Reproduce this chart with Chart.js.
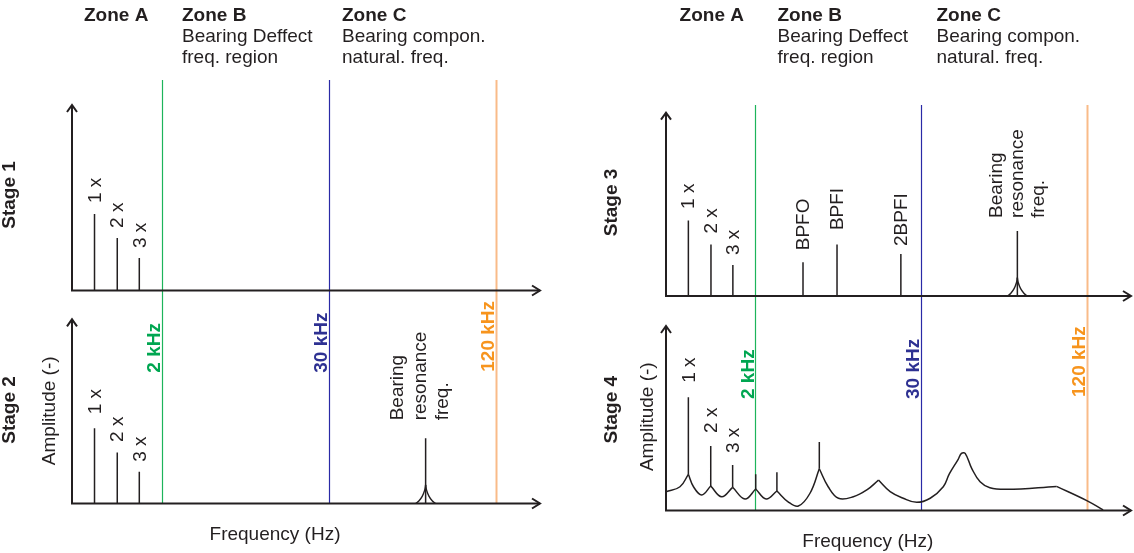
<!DOCTYPE html>
<html>
<head>
<meta charset="utf-8">
<script src="https://cdn.jsdelivr.net/npm/chart.js@4.4.1/dist/chart.umd.min.js"></script>
<style>
html,body{margin:0;padding:0;background:#fff;}
#wrap{position:relative;width:1134px;height:553px;overflow:hidden;background:#fff;}
canvas{position:absolute;display:block;}
</style>
</head>
<body>
<div id="wrap">
<canvas id="c1" width="567" height="300" style="left:0px;top:0px"></canvas>
<canvas id="c2" width="567" height="253" style="left:0px;top:300px"></canvas>
<canvas id="c3" width="567" height="303" style="left:567px;top:0px"></canvas>
<canvas id="c4" width="567" height="250" style="left:567px;top:303px"></canvas>
</div>
<script>
// ---------------- DATA ----------------
const zoneTitles = ['Zone A', 'Zone B', 'Zone C'];
const zoneSubtitles = [[], ['Bearing Deffect', 'freq. region'], ['Bearing compon.', 'natural. freq.']];
const stageLabels = ['Stage 1', 'Stage 2', 'Stage 3', 'Stage 4'];
const amplitudeTitle = 'Amplitude (-)';
const frequencyTitle = 'Frequency (Hz)';

// frequency axis runs 0..100 (schematic units)
const boundaryFreqs = [19.2, 54.7, 90.3];
const boundaryLabels = ['2 kHz', '30 kHz', '120 kHz'];

const harmonicFreqs = [4.8, 9.65, 14.35];
const harmonicLabels = ['1 x', '2 x', '3 x'];
const stage1Harmonics = [41.0, 28.2, 17.4];
const stage2Harmonics = [40.6, 27.6, 17.1];
const stage3Harmonics = [41.0, 27.9, 16.8];

const defectFreqs = [29.4, 36.7, 50.4];
const defectLabels = ['BPFO', 'BPFI', '2BPFI'];
const stage3Defects = [18.3, 27.9, 22.8];

const resonanceFreq = 75.4;
const resonanceLabel = ['Bearing', 'resonance', 'freq.'];
const stage2Resonance = 35.2;
const stage3Resonance = 35.3;
const flareOffsets = [2.1, 1.4, 0.7, 0.2, 0];
const flareAmps = [0, 1.5, 4.0, 7.2, 10.0];

const stage4CurveX = [0, 3.0, 4.8, 5.9, 7.66, 9.6, 11.95, 14.3, 16.95, 19.25, 21.5, 23.8, 26.2, 28.4, 30.9, 32.9, 34.8, 37.0, 40.2, 43.1, 45.6, 48.1, 50.9, 53.8, 56.7, 59.5, 60.8, 62.7, 63.4, 64.2, 65.6, 67.4, 69.5, 73.1, 83.8, 90.3, 93.8];
const stage4CurveY = [10.1, 12.8, 19.5, 12.8, 8.4, 13.2, 7.4, 12.5, 6.2, 11.6, 6.2, 10.5, 4.7, 2.4, 9.3, 22.5, 12.8, 6.6, 7.4, 11.1, 16.4, 10.2, 6.6, 4.4, 6.6, 12.8, 19.7, 27.6, 30.8, 30.8, 22.7, 15.5, 12.3, 11.4, 13.0, 5.3, 0.3];
const stage4Cusps = [2, 5, 7, 9, 11, 15, 20, 34];
const stage4StickFreqs = [4.8, 9.6, 14.3, 19.25, 23.8, 32.9];
const stage4StickBase = [19.5, 13.2, 12.5, 11.6, 10.5, 22.5];
const stage4StickTop = [61.0, 34.8, 24.5, 19.5, 20.6, 36.9];

// ---------------- STYLE ----------------
const INK = '#231f20';
const FAM = '"Liberation Sans", Arial, Helvetica, sans-serif';
const REG = '19px ' + FAM;
const BOLD = 'bold 19px ' + FAM;
const boundaryTextColors = ['#00a651', '#2e3192', '#f7941d'];
const boundaryLineColors = ['#1db45a', '#2a2aa6', '#f9bb88'];
const boundaryLineWidths = [1.2, 1.2, 2];

// ---------------- HELPERS ----------------
function sticks(freqs, bases, tops) {
  const pts = [];
  freqs.forEach((f, i) => {
    pts.push({x: f, y: bases ? bases[i] : 0});
    pts.push({x: f, y: tops[i]});
    pts.push({x: f, y: null});
  });
  return pts;
}
function lineSet(data, tension, width) {
  return {data, borderColor: INK, borderWidth: width || 1.5, pointRadius: 0, tension: tension || 0,
          fill: false, spanGaps: false, clip: false, borderCapStyle: 'butt', borderJoinStyle: 'round'};
}
function flareSets(freq) {
  const l = flareOffsets.map((d, i) => ({x: freq - d, y: flareAmps[i]}));
  const r = flareOffsets.map((d, i) => ({x: freq + d, y: flareAmps[i]}));
  return [lineSet(l, 0.4, 1.4), lineSet(r, 0.4, 1.4)];
}
function curveSets() {
  const cuts = [0, ...stage4Cusps, stage4CurveX.length - 1];
  const sets = [];
  for (let k = 0; k < cuts.length - 1; k++) {
    const pts = [];
    for (let i = cuts[k]; i <= cuts[k + 1]; i++) pts.push({x: stage4CurveX[i], y: stage4CurveY[i]});
    sets.push(lineSet(pts, 0.4, 1.5));
  }
  return sets;
}
function vText(ctx, str, x, y, font, color, align) {
  ctx.save();
  ctx.translate(x, y);
  ctx.rotate(-Math.PI / 2);
  ctx.font = font;
  ctx.fillStyle = color;
  ctx.textAlign = align || 'left';
  ctx.textBaseline = 'middle';
  ctx.fillText(str, 0, 0);
  ctx.restore();
}

const diagramPlugin = {
  id: 'diagram',
  beforeDatasetsDraw(chart, args, o) {
    const ctx = chart.ctx, xs = chart.scales.x, ys = chart.scales.y;
    const bottom = o.lineToAxis ? ys.getPixelForValue(0) : chart.height;
    boundaryFreqs.forEach((f, i) => {
      const px = Math.round(xs.getPixelForValue(f)) + 0.5;
      ctx.save();
      ctx.strokeStyle = boundaryLineColors[i];
      ctx.lineWidth = boundaryLineWidths[i];
      ctx.beginPath();
      ctx.moveTo(px, o.lineTop);
      ctx.lineTo(px, bottom);
      ctx.stroke();
      ctx.restore();
    });
  },
  afterDatasetsDraw(chart, args, o) {
    const ctx = chart.ctx, xs = chart.scales.x, ys = chart.scales.y;
    const x0 = xs.getPixelForValue(0), x1 = xs.getPixelForValue(100);
    const y0 = ys.getPixelForValue(0), y1 = ys.getPixelForValue(100);
    // axes with open arrowheads
    ctx.save();
    ctx.strokeStyle = INK;
    ctx.lineWidth = 2;
    ctx.lineCap = 'butt';
    ctx.lineJoin = 'miter';
    ctx.beginPath();
    ctx.moveTo(x0, y0 + 1); ctx.lineTo(x0, y1 + 1);
    ctx.moveTo(x0 - 1, y0); ctx.lineTo(x1 - 1, y0);
    ctx.stroke();
    ctx.beginPath();
    ctx.moveTo(x0 - 5, y1 + 8); ctx.lineTo(x0, y1 + 1); ctx.lineTo(x0 + 5, y1 + 8);
    ctx.moveTo(x1 - 9, y0 - 5); ctx.lineTo(x1 - 1, y0); ctx.lineTo(x1 - 9, y0 + 5);
    ctx.stroke();
    ctx.restore();

    // zone headers
    if (o.headers) {
      ctx.save();
      ctx.fillStyle = INK;
      ctx.textAlign = 'left';
      ctx.textBaseline = 'alphabetic';
      zoneTitles.forEach((t, i) => {
        const hx = o.headers.x[i];
        ctx.font = BOLD;
        ctx.fillText(t, hx, o.headers.y);
        ctx.font = REG;
        zoneSubtitles[i].forEach((s, j) => ctx.fillText(s, hx, o.headers.y + (j + 1) * o.headers.lh));
      });
      ctx.restore();
    }
    // stage / axis titles
    vText(ctx, o.stage.text, o.stage.x, o.stage.y, BOLD, INK, 'center');
    if (o.amp) vText(ctx, amplitudeTitle, o.amp.x, o.amp.y, REG, INK, 'center');
    if (o.freq) {
      ctx.save();
      ctx.font = REG; ctx.fillStyle = INK; ctx.textAlign = 'center'; ctx.textBaseline = 'alphabetic';
      ctx.fillText(frequencyTitle, o.freq.x, o.freq.y);
      ctx.restore();
    }
    // boundary frequency labels
    if (o.khz) {
      boundaryFreqs.forEach((f, i) => {
        const px = xs.getPixelForValue(f);
        vText(ctx, boundaryLabels[i], px + o.khz.dx, o.khz.bottom[i], BOLD, boundaryTextColors[i], 'left');
      });
    }
    // stick labels
    (o.stickLabels || []).forEach(g => {
      g.freqs.forEach((f, i) => {
        const px = xs.getPixelForValue(f) + g.dx;
        const py = ys.getPixelForValue(g.tops[i]) - g.gaps[i];
        vText(ctx, g.labels[i], px, py, REG, INK, 'left');
      });
    });
    // resonance label
    if (o.res) {
      const px = xs.getPixelForValue(resonanceFreq);
      const py = ys.getPixelForValue(o.res.amp) - o.res.gap;
      resonanceLabel.forEach((s, i) => vText(ctx, s, px + o.res.dx[i], py, REG, INK, 'left'));
    }
  }
};

function makeChart(id, datasets, padding, diag) {
  return new Chart(document.getElementById(id), {
    type: 'line',
    data: {datasets},
    options: {
      responsive: false,
      animation: false,
      events: [],
      parsing: true,
      layout: {padding},
      scales: {
        x: {type: 'linear', min: 0, max: 100, display: false},
        y: {type: 'linear', min: 0, max: 100, display: false}
      },
      plugins: {legend: {display: false}, tooltip: {enabled: false}, diagram: diag}
    },
    plugins: [diagramPlugin]
  });
}

// Stage 1 (left top)
makeChart('c1',
  [lineSet(sticks(harmonicFreqs, null, stage1Harmonics))],
  {left: 72, right: 26, top: 104, bottom: 9.5},
  {
    lineTop: 80, lineToAxis: false,
    headers: {x: [84, 182, 342], y: 20.7, lh: 21.3},
    stage: {text: stageLabels[0], x: 10, y: 195},
    stickLabels: [{freqs: harmonicFreqs, tops: stage1Harmonics, labels: harmonicLabels, gaps: [11, 10, 10], dx: 1}]
  });

// Stage 2 (left bottom)
makeChart('c2',
  [lineSet(sticks([...harmonicFreqs, resonanceFreq], null, [...stage2Harmonics, stage2Resonance])), ...flareSets(resonanceFreq)],
  {left: 72, right: 26, top: 18.3, bottom: 49.5},
  {
    lineTop: 0, lineToAxis: true,
    stage: {text: stageLabels[1], x: 10, y: 110},
    amp: {x: 50, y: 110.8},
    freq: {x: 275, y: 240},
    khz: {dx: -7, bottom: [72.7, 72.7, 71.7]},
    stickLabels: [{freqs: harmonicFreqs, tops: stage2Harmonics, labels: harmonicLabels, gaps: [14, 10.5, 10], dx: 1}],
    res: {amp: stage2Resonance, gap: 18, dx: [-27.5, -5, 16.7]}
  });

// Stage 3 (right top)
makeChart('c3',
  [lineSet(sticks([...harmonicFreqs, ...defectFreqs, resonanceFreq], null, [...stage3Harmonics, ...stage3Defects, stage3Resonance])), ...flareSets(resonanceFreq)],
  {left: 99, right: 2, top: 111.7, bottom: 7},
  {
    lineTop: 105, lineToAxis: false,
    headers: {x: [112.6, 210.5, 369.5], y: 20.7, lh: 21.3},
    stage: {text: stageLabels[2], x: 44.5, y: 202.5},
    stickLabels: [
      {freqs: harmonicFreqs, tops: stage3Harmonics, labels: harmonicLabels, gaps: [11.5, 11, 10], dx: 0.5},
      {freqs: defectFreqs, tops: stage3Defects, labels: defectLabels, gaps: [12, 14.5, 8], dx: 0.5}
    ],
    res: {amp: stage3Resonance, gap: 13, dx: [-21, 0, 21]}
  });

// Stage 4 (right bottom)
makeChart('c4',
  [...curveSets(), lineSet(sticks(stage4StickFreqs, stage4StickBase, stage4StickTop))],
  {left: 99, right: 2, top: 22, bottom: 42.5},
  {
    lineTop: 0, lineToAxis: true,
    stage: {text: stageLabels[3], x: 44.5, y: 106.7},
    amp: {x: 80.3, y: 113.7},
    freq: {x: 300.8, y: 243.7},
    khz: {dx: -7, bottom: [96, 96, 94]},
    stickLabels: [{freqs: harmonicFreqs, tops: stage4StickTop.slice(0, 3), labels: harmonicLabels, gaps: [14.5, 13, 12], dx: 1}]
  });
</script>
</body>
</html>
